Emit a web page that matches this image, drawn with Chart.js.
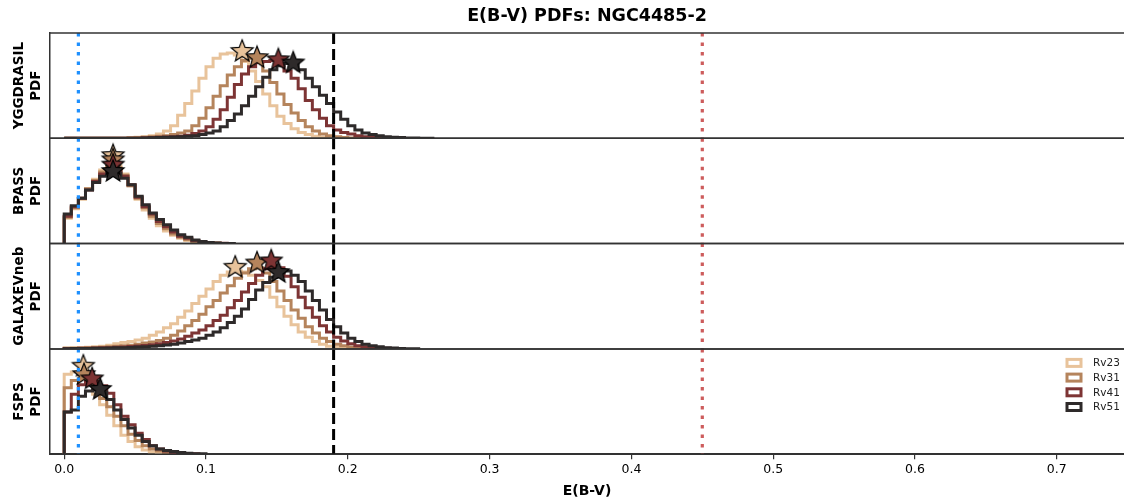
<!DOCTYPE html>
<html>
<head>
<meta charset="utf-8">
<script src="https://cdn.jsdelivr.net/npm/chart.js@4.4.1/dist/chart.umd.min.js"></script>
<style>
  html, body { margin: 0; padding: 0; background: #fff; overflow: hidden; }
  #wrap { width: 1124px; height: 504px; position: relative; }
</style>
</head>
<body>
<div id="wrap"><canvas id="pdfChart"></canvas></div>
<script>
const rvLabels = ['Rv23', 'Rv31', 'Rv41', 'Rv51'];
const rvColors = ['#e8c39b', '#b5845c', '#7d3434', '#2e2a2a'];
const modelNames = ['YGGDRASIL', 'BPASS', 'GALAXEVneb', 'FSPS'];
const binWidth = 0.005;
const xTickValues = [0.0, 0.1, 0.2, 0.3, 0.4, 0.5, 0.6, 0.7];
const refLineValues = [0.01, 0.19, 0.45];

// PDF histograms, one value per 0.005 bin starting at E(B-V) = 0
const yggdrasilRv23 = [0,0,0,0,0,0,0,0,0,0, .005,.01,.015,.025,.04,.07,.12,.22,.33,.45, .57,.68,.76,.80,.81,.79,.73,.64,.54,.42, .31,.21,.14,.09,.055,.035,.02,.01,.005];
const yggdrasilRv31 = [0,0,0,0,0,0,0,0,0,0, .005,.008,.01,.015,.02,.025,.035,.05,.07,.12, .19,.29,.40,.50,.60,.68,.74,.76,.73,.64, .53,.42,.32,.24,.17,.11,.07,.04,.025,.015, .008,.004];
const yggdrasilRv41 = [0,0,0,0,0,0,0,0,0,0, 0,0,.005,.007,.01,.012,.015,.02,.03,.045, .07,.11,.18,.27,.39,.51,.61,.68,.72,.73, .74,.70,.64,.57,.47,.36,.27,.19,.12,.08, .055,.04,.025,.015,.01,.005];
const yggdrasilRv51 = [0,0,0,0,0,0,0,0,0,0, 0,0,.003,.005,.008,.01,.012,.015,.02,.025, .035,.05,.07,.11,.17,.23,.31,.40,.49,.58, .65,.69,.71,.70,.65,.57,.49,.41,.33,.25, .18,.12,.08,.05,.035,.025,.015,.01,.007,.004, .002,.001];

const bpassRv23 = [.17,.24,.33,.42,.52,.61,.70,.76,.74,.66, .55,.42,.32,.24,.17,.12,.08,.05,.03,.015, .008,.004];
const bpassRv31 = [.19,.25,.34,.43,.52,.60,.68,.73,.72,.65, .55,.43,.34,.26,.19,.14,.09,.06,.04,.02, .01,.005];
const bpassRv41 = [.21,.26,.35,.43,.51,.59,.66,.70,.69,.64, .56,.44,.35,.28,.21,.16,.11,.07,.05,.03, .015,.008,.004];
const bpassRv51 = [.23,.28,.36,.43,.51,.58,.64,.68,.67,.62, .56,.45,.37,.29,.23,.18,.13,.085,.06,.035, .02,.01,.005,.002];

const galaxevRv23 = [.005,.008,.01,.012,.015,.02,.025,.035,.05,.06, .07,.085,.10,.13,.16,.20,.24,.30,.36,.43, .50,.57,.64,.70,.73,.74,.73,.70,.65,.59, .49,.40,.31,.23,.16,.11,.07,.045,.025,.015, .008,.004];
const galaxevRv31 = [.003,.005,.006,.008,.01,.012,.015,.02,.025,.03, .035,.045,.055,.065,.08,.10,.13,.17,.22,.27, .33,.40,.46,.53,.60,.67,.72,.76,.77,.72, .64,.55,.46,.37,.29,.21,.15,.10,.07,.045, .03,.018,.01,.005];
const galaxevRv41 = [.002,.003,.004,.005,.006,.008,.01,.012,.015,.018, .022,.027,.033,.04,.05,.06,.075,.095,.12,.15, .18,.22,.27,.32,.39,.46,.54,.62,.70,.76, .78,.77,.69,.59,.49,.39,.30,.22,.16,.11, .075,.05,.03,.02,.01,.005];
const galaxevRv51 = [.001,.002,.003,.003,.004,.005,.006,.008,.01,.012, .014,.017,.02,.025,.03,.037,.045,.055,.07,.085, .10,.13,.16,.20,.25,.31,.38,.47,.56,.63, .68,.72,.74,.70,.64,.55,.46,.37,.28,.21, .15,.10,.07,.045,.03,.02,.012,.008,.004,.002];

const fspsRv23 = [.62,.76,.78,.75,.68,.57,.47,.37,.27,.18, .12,.07,.04,.02,.01,.005];
const fspsRv31 = [.45,.63,.70,.72,.69,.62,.53,.45,.36,.27, .19,.13,.08,.05,.03,.015,.008,.004];
const fspsRv41 = [.31,.40,.57,.66,.69,.69,.65,.58,.47,.36, .28,.20,.14,.08,.05,.03,.015,.008,.004];
const fspsRv51 = [.21,.40,.42,.55,.60,.61,.59,.52,.42,.33, .25,.18,.12,.08,.05,.035,.025,.015,.008,.004];

// PDF peaks (star markers), one per Rv
const yggdrasilPeakX = [0.1255, 0.136, 0.151, 0.1615];
const yggdrasilPeakPdf = [0.83, 0.77, 0.75, 0.72];
const bpassPeakX = [0.0345, 0.0345, 0.0345, 0.0345];
const bpassPeakPdf = [0.84, 0.80, 0.75, 0.69];
const galaxevPeakX = [0.1206, 0.136, 0.146, 0.151];
const galaxevPeakPdf = [0.78, 0.82, 0.84, 0.73];
const fspsPeakX = [0.0135, 0.014, 0.0197, 0.0254];
const fspsPeakPdf = [0.84, 0.76, 0.72, 0.62];

const panelHists = [
    [yggdrasilRv23, yggdrasilRv31, yggdrasilRv41, yggdrasilRv51],
    [bpassRv23, bpassRv31, bpassRv41, bpassRv51],
    [galaxevRv23, galaxevRv31, galaxevRv41, galaxevRv51],
    [fspsRv23, fspsRv31, fspsRv41, fspsRv51]
];
const panelPeakX = [yggdrasilPeakX, bpassPeakX, galaxevPeakX, fspsPeakX];
const panelPeakPdf = [yggdrasilPeakPdf, bpassPeakPdf, galaxevPeakPdf, fspsPeakPdf];

const FONT = 'DejaVu Sans';

function stepPoints(values) {
    const pts = [{ x: 0, y: 0 }];
    values.forEach((v, i) => pts.push({ x: i * binWidth, y: v }));
    const end = values.length * binWidth;
    pts.push({ x: end, y: values[values.length - 1] });
    pts.push({ x: end, y: 0 });
    return pts;
}

function starImage(color) {
    const c = document.createElement('canvas');
    c.width = 26;
    c.height = 26;
    const g = c.getContext('2d');
    const outer = 11.5, inner = 5;
    g.beginPath();
    for (let k = 0; k < 10; k++) {
        const r = k % 2 === 0 ? outer : inner;
        const a = -Math.PI / 2 + k * Math.PI / 5;
        const px = 13 + r * Math.cos(a);
        const py = 13.5 + r * Math.sin(a);
        if (k === 0) g.moveTo(px, py); else g.lineTo(px, py);
    }
    g.closePath();
    g.fillStyle = color;
    g.fill();
    g.lineWidth = 1.2;
    g.strokeStyle = '#000';
    g.stroke();
    return c;
}
const starImages = rvColors.map(starImage);

const datasets = [];
panelHists.forEach((hists, p) => {
    hists.forEach((vals, s) => {
        datasets.push({
            label: rvLabels[s],
            data: stepPoints(vals),
            yAxisID: 'y' + p,
            borderColor: rvColors[s],
            borderWidth: 3,
            pointRadius: 0,
            stepped: 'after',
            fill: false,
            order: 10 + (3 - s)
        });
    });
    rvLabels.forEach((lab, s) => {
        datasets.push({
            label: lab + ' peak',
            data: [{ x: panelPeakX[p][s], y: panelPeakPdf[p][s] }],
            yAxisID: 'y' + p,
            showLine: false,
            pointStyle: starImages[s],
            pointRadius: 12,
            order: 3 - s
        });
    });
});

const scales = {
    x: {
        type: 'linear',
        min: -0.01,
        max: 0.7474,
        afterBuildTicks: axis => { axis.ticks = xTickValues.map(v => ({ value: v })); },
        ticks: {
            callback: v => Number(v).toFixed(1),
            font: { family: FONT, size: 12.5 },
            color: '#000',
            padding: 3,
            maxRotation: 0,
            autoSkip: false
        },
        grid: { display: true, drawOnChartArea: false, drawTicks: true, tickLength: 5, color: '#333', lineWidth: 1.2 },
        border: { display: true, color: '#333', width: 1.5 },
        title: {
            display: true,
            text: 'E(B-V)',
            color: '#000',
            font: { family: FONT, size: 14, weight: 'bold' },
            padding: { top: 3, bottom: 2 }
        }
    }
};
// stacked left axes are laid out last-defined on top, so add them bottom-up
for (let p = modelNames.length - 1; p >= 0; p--) {
    scales['y' + p] = {
        type: 'linear',
        min: 0,
        max: 1,
        position: 'left',
        stack: 'panels',
        stackWeight: 1,
        offset: false,
        ticks: { display: false },
        grid: { display: false, drawTicks: false },
        border: { display: true, color: '#333', width: 1.5 },
        title: {
            display: true,
            text: [modelNames[p], 'PDF'],
            color: '#000',
            font: { family: FONT, size: 13.5, weight: 'bold', lineHeight: 1.26 },
            padding: { top: 4, bottom: 5 }
        }
    };
}

const refLineStyles = [
    { color: '#1e90ff', dash: [3.5, 6], width: 3.2 },
    { color: '#000000', dash: [11, 5], width: 3 },
    { color: '#cd5c5c', dash: [3.5, 6], width: 3.2 }
];

const panelFrame = {
    id: 'panelFrame',
    afterDatasetsDraw(chart) {
        const { ctx, chartArea } = chart;
        const xs = chart.scales.x;
        ctx.save();
        modelNames.forEach((_, p) => {
            const ys = chart.scales['y' + p];
            refLineValues.forEach((v, k) => {
                const st = refLineStyles[k];
                const x = xs.getPixelForValue(v);
                ctx.beginPath();
                ctx.setLineDash(st.dash);
                ctx.lineCap = 'butt';
                ctx.strokeStyle = st.color;
                ctx.lineWidth = st.width;
                ctx.moveTo(x, ys.top);
                ctx.lineTo(x, ys.bottom);
                ctx.stroke();
            });
        });
        ctx.setLineDash([]);
        ctx.strokeStyle = '#333';
        ctx.lineWidth = 1.5;
        modelNames.forEach((_, p) => {
            const ys = chart.scales['y' + p];
            [ys.top, ys.bottom].forEach(y => {
                ctx.beginPath();
                ctx.moveTo(chartArea.left, y);
                ctx.lineTo(chartArea.right, y);
                ctx.stroke();
            });
        });

        // legend in the bottom panel
        const lastPanel = chart.scales['y' + (modelNames.length - 1)];
        const boxLeft = chartArea.right - 57;
        ctx.font = '10.5px "' + FONT + '"';
        ctx.textBaseline = 'middle';
        ctx.textAlign = 'left';
        rvLabels.forEach((lab, s) => {
            const cy = lastPanel.top + 14 + s * 14.7;
            ctx.fillStyle = '#fff';
            ctx.fillRect(boxLeft, cy - 3.5, 14, 7);
            ctx.strokeStyle = rvColors[s];
            ctx.lineWidth = 3;
            ctx.strokeRect(boxLeft, cy - 3.5, 14, 7);
            ctx.fillStyle = '#222';
            ctx.fillText(lab, boxLeft + 26, cy + 0.5);
        });
        ctx.restore();
    }
};

new Chart(document.getElementById('pdfChart').getContext('2d'), {
    type: 'line',
    data: { datasets },
    options: {
        responsive: true,
        maintainAspectRatio: false,
        animation: false,
        events: [],
        layout: { autoPadding: false, padding: { left: 7, right: 0, top: 0, bottom: 2 } },
        scales,
        plugins: {
            legend: { display: false },
            tooltip: { enabled: false },
            title: {
                display: true,
                fullSize: false,
                text: 'E(B-V) PDFs: NGC4485-2',
                color: '#000',
                font: { family: FONT, size: 17.5, weight: 'bold' },
                padding: { top: 6, bottom: 6 }
            }
        }
    },
    plugins: [panelFrame]
});
</script>
</body>
</html>
